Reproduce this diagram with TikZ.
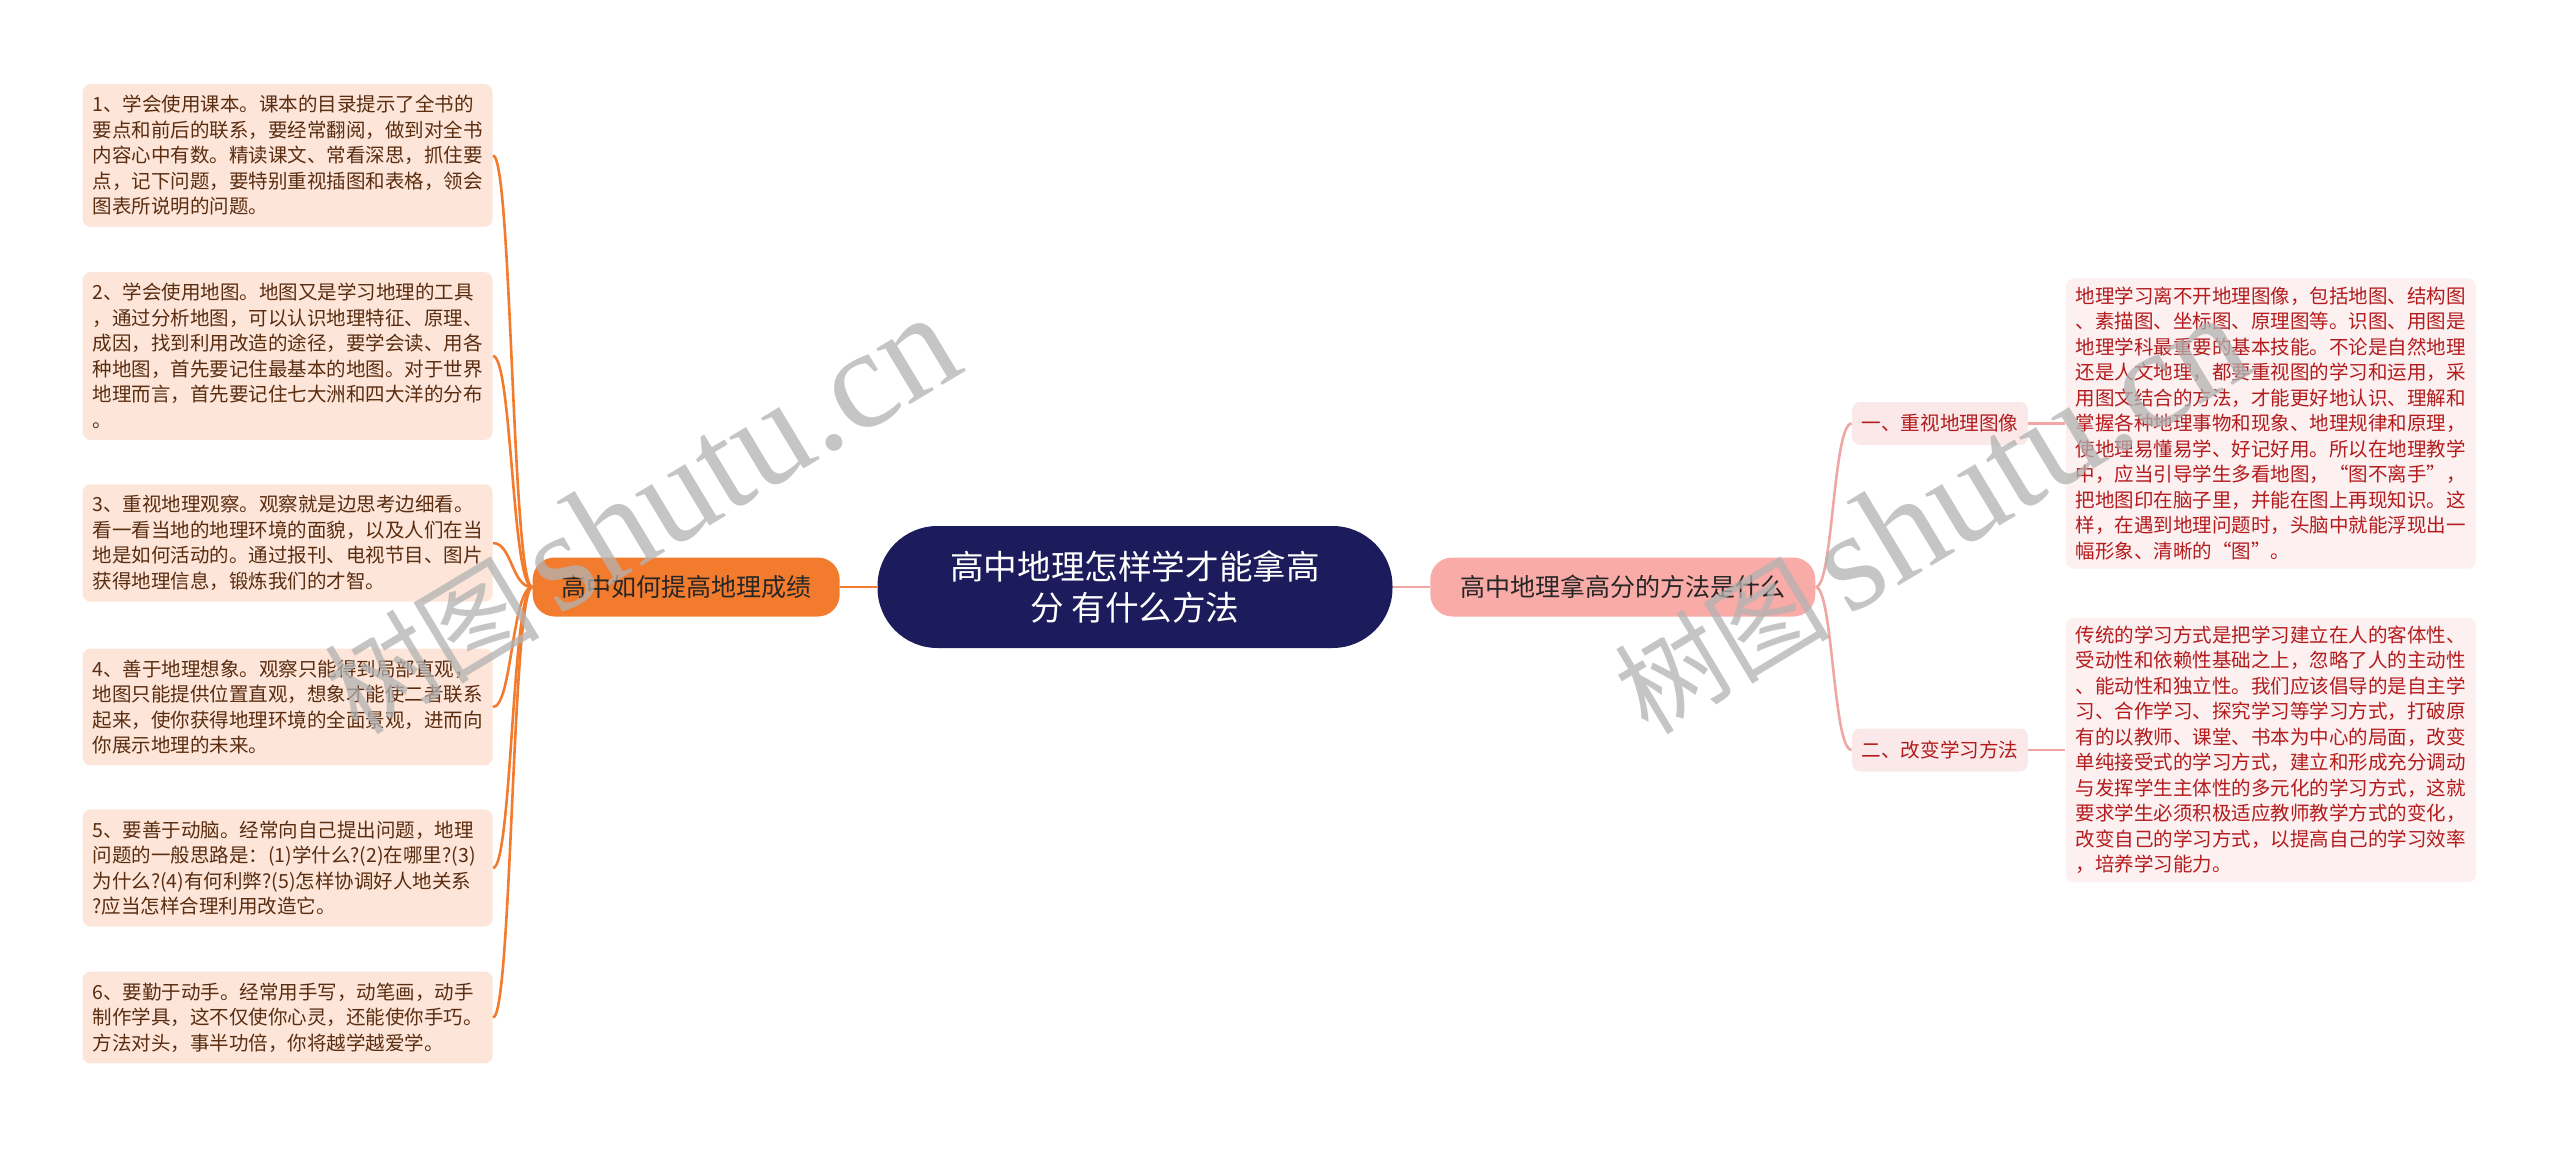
\documentclass[tikz,border=0pt]{standalone}
\usepackage{fontspec}
\usepackage{tikz}
\usetikzlibrary{positioning}
\newfontfamily\cjk{Noto Sans CJK SC}
\newfontfamily\wmlatin{Liberation Serif}
\definecolor{navy}{HTML}{1C1B5C}
\definecolor{orange}{HTML}{F27B2E}
\definecolor{peach}{HTML}{FDE6D9}
\definecolor{brown}{HTML}{5A2C10}
\definecolor{salmon}{HTML}{F8ABA7}
\definecolor{rose}{HTML}{EFA7A3}
\definecolor{blush}{HTML}{FBE9E9}
\definecolor{wine}{HTML}{B31B1D}

\begin{document}
\begin{tikzpicture}[x=0.5pt, y=-0.5pt, font=\cjk,
  root/.style={fill=navy, text=white, rounded corners=30pt, minimum width=257.5pt, minimum height=61pt,
    align=center, font=\cjk\fontsize{16.8}{20.5}\selectfont},
  lmainbox/.style={fill=orange, text=black!85, rounded corners=11pt, minimum width=153.5pt, minimum height=29.5pt,
    font=\cjk\fontsize{12.5}{15}\selectfont},
  rmainbox/.style={fill=salmon, text=black!85, rounded corners=11pt, minimum width=192.5pt, minimum height=29.5pt,
    font=\cjk\fontsize{12.5}{15}\selectfont},
  leaf/.style={rounded corners=4pt, text width=195pt, inner xsep=5pt, align=left,
    font=\cjk\fontsize{9.75}{12.75}\selectfont},
  lleaf/.style={leaf, fill=peach, text=brown, inner ysep=5.6pt, anchor=east},
  rleaf/.style={leaf, fill=blush!70, text=wine, inner ysep=4.2pt},
  rsub/.style={fill=blush, text=wine, rounded corners=4pt, minimum width=88pt, minimum height=21.5pt,
    font=\cjk\fontsize{9.8}{12}\selectfont},
  lline/.style={draw=orange, line width=1.3pt},
  rline/.style={draw=rose, line width=1.3pt},
  wmark/.style={text=black!30, opacity=0.75, rotate=31, inner sep=0pt}]
\useasboundingbox (0,0) rectangle (2560,1150);

\node[root] (root) at (1135,587) {高中地理怎样学才能拿高\\分 有什么方法};
\node[lmainbox, left=18.5pt of root] (lmain) {高中如何提高地理成绩};
\node[rmainbox, right=18.5pt of root] (rmain) {高中地理拿高分的方法是什么};
\draw[lline] (root.west) -- (lmain.east);
\draw[rline] (root.east) -- (rmain.west);

\node[lleaf] (l1) at (493,155.5) {1、学会使用课本。课本的目录提示了全书的\\要点和前后的联系，要经常翻阅，做到对全书\\内容心中有数。精读课文、常看深思，抓住要\\点，记下问题，要特别重视插图和表格，领会\\图表所说明的问题。};
\node[lleaf] (l2) at (493,356) {2、学会使用地图。地图又是学习地理的工具\\，通过分析地图，可以认识地理特征、原理、\\成因，找到利用改造的途径，要学会读、用各\\种地图，首先要记住最基本的地图。对于世界\\地理而言，首先要记住七大洲和四大洋的分布\\。};
\node[lleaf] (l3) at (493,543) {3、重视地理观察。观察就是边思考边细看。\\看一看当地的地理环境的面貌，以及人们在当\\地是如何活动的。通过报刊、电视节目、图片\\获得地理信息，锻炼我们的才智。};
\node[lleaf] (l4) at (493,707) {4、善于地理想象。观察只能得到局部直观，\\地图只能提供位置直观，想象才能使二者联系\\起来，使你获得地理环境的全面景观，进而向\\你展示地理的未来。};
\node[lleaf] (l5) at (493,868) {5、要善于动脑。经常向自己提出问题，地理\\问题的一般思路是：(1)学什么?(2)在哪里?(3)\\为什么?(4)有何利弊?(5)怎样协调好人地关系\\?应当怎样合理利用改造它。};
\node[lleaf] (l6) at (493,1017.5) {6、要勤于动手。经常用手写，动笔画，动手\\制作学具，这不仅使你心灵，还能使你手巧。\\方法对头，事半功倍，你将越学越爱学。};

\coordinate (ltrunk) at (512,588);
\foreach \i in {1,...,6}
  \draw[lline] (lmain.west) .. controls (ltrunk) and (ltrunk |- l\i.east) .. (l\i.east);

\node[rsub] (r1) at (1940,423.5) {一、重视地理图像};
\node[rsub] (r2) at (1940,750) {二、改变学习方法};
\node[rleaf, right=18.5pt of r1] (rl1) {地理学习离不开地理图像，包括地图、结构图\\、素描图、坐标图、原理图等。识图、用图是\\地理学科最重要的基本技能。不论是自然地理\\还是人文地理，都要重视图的学习和运用，采\\用图文结合的方法，才能更好地认识、理解和\\掌握各种地理事物和现象、地理规律和原理，\\使地理易懂易学、好记好用。所以在地理教学\\中，应当引导学生多看地图，“图不离手”，\\把地图印在脑子里，并能在图上再现知识。这\\样，在遇到地理问题时，头脑中就能浮现出一\\幅形象、清晰的“图”。};
\node[rleaf, right=18.5pt of r2] (rl2) {传统的学习方式是把学习建立在人的客体性、\\受动性和依赖性基础之上，忽略了人的主动性\\、能动性和独立性。我们应该倡导的是自主学\\习、合作学习、探究学习等学习方式，打破原\\有的以教师、课堂、书本为中心的局面，改变\\单纯接受式的学习方式，建立和形成充分调动\\与发挥学生主体性的多元化的学习方式，这就\\要求学生必须积极适应教师教学方式的变化，\\改变自己的学习方式，以提高自己的学习效率\\，培养学习能力。};

\coordinate (rtrunk) at (1833,588);
\foreach \i in {1,2} {
  \draw[rline] (rmain.east) .. controls (rtrunk) and (rtrunk |- r\i.west) .. (r\i.west);
  \draw[rline] (r\i.east) -- (rl\i.west);
}

\node[wmark] (wm1) at (640,515) {\fontsize{54}{54}\selectfont 树图\,\wmlatin\fontsize{71}{71}\selectfont shutu.cn};
\node[wmark] (wm2) at (1930,515) {\fontsize{54}{54}\selectfont 树图\,\wmlatin\fontsize{71}{71}\selectfont shutu.cn};
\end{tikzpicture}
\end{document}
